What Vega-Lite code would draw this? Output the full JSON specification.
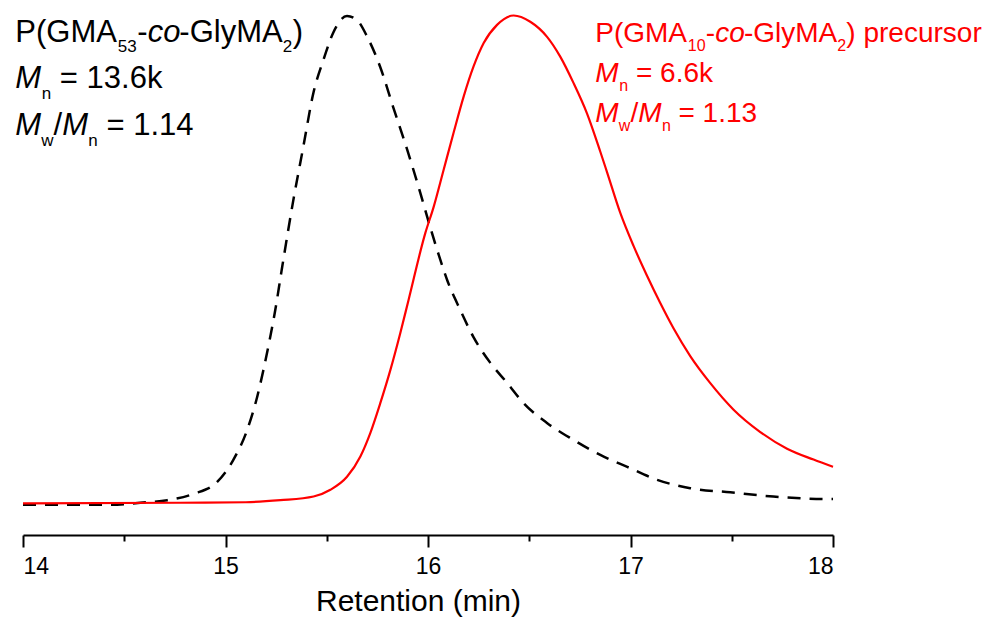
{
  "$schema": "https://vega.github.io/schema/vega-lite/v6.json",
  "width": 810,
  "height": 520,
  "autosize": {"type": "none"},
  "padding": {"left": 23, "top": 15, "right": 151, "bottom": 85},
  "background": "white",
  "config": {
    "view": {"stroke": null},
    "font": "Liberation Sans",
    "text": {"font": "Liberation Sans"}
  },
  "datasets": {
    "curves": [
      {"t": 14.0, "v": 0.061, "s": "precursor"},
      {"t": 14.777, "v": 0.062, "s": "precursor"},
      {"t": 15.1, "v": 0.063, "s": "precursor"},
      {"t": 15.271, "v": 0.067, "s": "precursor"},
      {"t": 15.435, "v": 0.074, "s": "precursor"},
      {"t": 15.518, "v": 0.087, "s": "precursor"},
      {"t": 15.600, "v": 0.112, "s": "precursor"},
      {"t": 15.666, "v": 0.151, "s": "precursor"},
      {"t": 15.715, "v": 0.196, "s": "precursor"},
      {"t": 15.764, "v": 0.253, "s": "precursor"},
      {"t": 15.814, "v": 0.317, "s": "precursor"},
      {"t": 15.863, "v": 0.388, "s": "precursor"},
      {"t": 15.904, "v": 0.452, "s": "precursor"},
      {"t": 15.987, "v": 0.581, "s": "precursor"},
      {"t": 16.028, "v": 0.631, "s": "precursor"},
      {"t": 16.077, "v": 0.702, "s": "precursor"},
      {"t": 16.126, "v": 0.773, "s": "precursor"},
      {"t": 16.176, "v": 0.843, "s": "precursor"},
      {"t": 16.225, "v": 0.901, "s": "precursor"},
      {"t": 16.275, "v": 0.946, "s": "precursor"},
      {"t": 16.341, "v": 0.981, "s": "precursor"},
      {"t": 16.423, "v": 0.999, "s": "precursor"},
      {"t": 16.505, "v": 0.987, "s": "precursor"},
      {"t": 16.588, "v": 0.958, "s": "precursor"},
      {"t": 16.653, "v": 0.920, "s": "precursor"},
      {"t": 16.719, "v": 0.869, "s": "precursor"},
      {"t": 16.785, "v": 0.811, "s": "precursor"},
      {"t": 16.851, "v": 0.737, "s": "precursor"},
      {"t": 16.884, "v": 0.698, "s": "precursor"},
      {"t": 16.950, "v": 0.619, "s": "precursor"},
      {"t": 17.015, "v": 0.556, "s": "precursor"},
      {"t": 17.081, "v": 0.499, "s": "precursor"},
      {"t": 17.147, "v": 0.446, "s": "precursor"},
      {"t": 17.213, "v": 0.397, "s": "precursor"},
      {"t": 17.295, "v": 0.344, "s": "precursor"},
      {"t": 17.394, "v": 0.292, "s": "precursor"},
      {"t": 17.509, "v": 0.241, "s": "precursor"},
      {"t": 17.641, "v": 0.198, "s": "precursor"},
      {"t": 17.773, "v": 0.166, "s": "precursor"},
      {"t": 17.904, "v": 0.145, "s": "precursor"},
      {"t": 18.0, "v": 0.131, "s": "precursor"},
      {"t": 14.0, "v": 0.058, "s": "product"},
      {"t": 14.431, "v": 0.058, "s": "product"},
      {"t": 14.579, "v": 0.062, "s": "product"},
      {"t": 14.713, "v": 0.067, "s": "product"},
      {"t": 14.841, "v": 0.079, "s": "product"},
      {"t": 14.959, "v": 0.102, "s": "product"},
      {"t": 15.038, "v": 0.144, "s": "product"},
      {"t": 15.107, "v": 0.202, "s": "product"},
      {"t": 15.156, "v": 0.265, "s": "product"},
      {"t": 15.187, "v": 0.317, "s": "product"},
      {"t": 15.221, "v": 0.381, "s": "product"},
      {"t": 15.246, "v": 0.433, "s": "product"},
      {"t": 15.276, "v": 0.506, "s": "product"},
      {"t": 15.335, "v": 0.644, "s": "product"},
      {"t": 15.384, "v": 0.746, "s": "product"},
      {"t": 15.434, "v": 0.850, "s": "product"},
      {"t": 15.483, "v": 0.913, "s": "product"},
      {"t": 15.532, "v": 0.966, "s": "product"},
      {"t": 15.600, "v": 0.998, "s": "product"},
      {"t": 15.650, "v": 0.990, "s": "product"},
      {"t": 15.700, "v": 0.958, "s": "product"},
      {"t": 15.764, "v": 0.900, "s": "product"},
      {"t": 15.828, "v": 0.823, "s": "product"},
      {"t": 15.898, "v": 0.740, "s": "product"},
      {"t": 15.962, "v": 0.658, "s": "product"},
      {"t": 16.011, "v": 0.592, "s": "product"},
      {"t": 16.061, "v": 0.529, "s": "product"},
      {"t": 16.095, "v": 0.490, "s": "product"},
      {"t": 16.159, "v": 0.433, "s": "product"},
      {"t": 16.224, "v": 0.381, "s": "product"},
      {"t": 16.308, "v": 0.331, "s": "product"},
      {"t": 16.392, "v": 0.292, "s": "product"},
      {"t": 16.471, "v": 0.254, "s": "product"},
      {"t": 16.589, "v": 0.215, "s": "product"},
      {"t": 16.718, "v": 0.183, "s": "product"},
      {"t": 16.851, "v": 0.154, "s": "product"},
      {"t": 16.984, "v": 0.131, "s": "product"},
      {"t": 17.132, "v": 0.106, "s": "product"},
      {"t": 17.295, "v": 0.090, "s": "product"},
      {"t": 17.493, "v": 0.082, "s": "product"},
      {"t": 17.705, "v": 0.074, "s": "product"},
      {"t": 17.972, "v": 0.069, "s": "product"},
      {"t": 18.0, "v": 0.069, "s": "product"}
    ],
    "regular": [
      {"x": 13.962, "y": 0.9487, "txt": "P(GMA", "s": "product"},
      {"x": 14.564, "y": 0.9487, "txt": "-", "s": "product"},
      {"x": 14.772, "y": 0.9487, "txt": "-GlyMA", "s": "product"},
      {"x": 15.332, "y": 0.9487, "txt": ")", "s": "product"},
      {"x": 14.182, "y": 0.8596, "txt": "= 13.6k", "s": "product"},
      {"x": 14.151, "y": 0.7692, "txt": "/", "s": "product"},
      {"x": 14.412, "y": 0.7692, "txt": "= 1.14", "s": "product"},
      {"x": 16.826, "y": 0.9487, "txt": "P(GMA", "s": "precursor"},
      {"x": 17.372, "y": 0.9487, "txt": "-", "s": "precursor"},
      {"x": 17.560, "y": 0.9487, "txt": "-GlyMA", "s": "precursor"},
      {"x": 18.066, "y": 0.9487, "txt": ") precursor", "s": "precursor"},
      {"x": 17.027, "y": 0.8717, "txt": "= 6.6k", "s": "precursor"},
      {"x": 17.000, "y": 0.7948, "txt": "/", "s": "precursor"},
      {"x": 17.237, "y": 0.7948, "txt": "= 1.13", "s": "precursor"}
    ],
    "italic": [
      {"x": 14.616, "y": 0.9487, "txt": "co", "s": "product"},
      {"x": 13.962, "y": 0.8596, "txt": "M", "s": "product"},
      {"x": 13.962, "y": 0.7692, "txt": "M", "s": "product"},
      {"x": 14.194, "y": 0.7692, "txt": "M", "s": "product"},
      {"x": 17.419, "y": 0.9487, "txt": "co", "s": "precursor"},
      {"x": 16.826, "y": 0.8717, "txt": "M", "s": "precursor"},
      {"x": 16.826, "y": 0.7948, "txt": "M", "s": "precursor"},
      {"x": 17.038, "y": 0.7948, "txt": "M", "s": "precursor"}
    ],
    "subs": [
      {"x": 14.468, "y": 0.9285, "txt": "53", "s": "product"},
      {"x": 15.283, "y": 0.9285, "txt": "2", "s": "product"},
      {"x": 14.093, "y": 0.8394, "txt": "n", "s": "product"},
      {"x": 14.090, "y": 0.7490, "txt": "w", "s": "product"},
      {"x": 14.322, "y": 0.7490, "txt": "n", "s": "product"},
      {"x": 17.283, "y": 0.9313, "txt": "10", "s": "precursor"},
      {"x": 18.021, "y": 0.9313, "txt": "2", "s": "precursor"},
      {"x": 16.945, "y": 0.8544, "txt": "n", "s": "precursor"},
      {"x": 16.942, "y": 0.7775, "txt": "w", "s": "precursor"},
      {"x": 17.155, "y": 0.7775, "txt": "n", "s": "precursor"}
    ]
  },
  "resolve": {"axis": {"x": "independent"}},
  "layer": [
    {
      "data": {"name": "curves"},
      "transform": [{"filter": "datum.s === 'product'"}],
      "mark": {"type": "line", "color": "black", "strokeWidth": 2.5, "strokeDash": [13, 9], "interpolate": "monotone"},
      "encoding": {
        "x": {"field": "t", "type": "quantitative", "scale": {"domain": [14, 18], "nice": false, "zero": false},
          "axis": {"orient": "bottom", "values": [14.5, 15.5, 16.5, 17.5], "labels": false, "domain": false, "grid": false, "tickSize": 6, "tickWidth": 2, "tickColor": "black", "title": null}},
        "y": {"field": "v", "type": "quantitative", "scale": {"domain": [0, 1], "nice": false, "zero": false}, "axis": null}
      }
    },
    {
      "data": {"name": "curves"},
      "transform": [{"filter": "datum.s === 'precursor'"}],
      "mark": {"type": "line", "color": "#ff0000", "strokeWidth": 2.2, "interpolate": "monotone"},
      "encoding": {
        "x": {"field": "t", "type": "quantitative", "scale": {"domain": [14, 18], "nice": false, "zero": false},
          "axis": {"orient": "bottom", "values": [14, 15, 16, 17, 18], "format": "d", "grid": false, "domainColor": "black", "domainWidth": 2, "tickColor": "black", "tickWidth": 2, "tickSize": 12, "labelFontSize": 23, "labelColor": "black", "labelPadding": 8, "labelFont": "Liberation Sans", "title": "Retention (min)", "titleFont": "Liberation Sans", "titleFontSize": 30, "titleFontWeight": "normal", "titleColor": "black", "titlePadding": 8, "titleX": 395}},
        "y": {"field": "v", "type": "quantitative", "scale": {"domain": [0, 1], "nice": false, "zero": false}, "axis": null}
      }
    },
    {
      "data": {"name": "regular"},
      "transform": [{"filter": "datum.s === 'product'"}],
      "mark": {"type": "text", "align": "left", "baseline": "alphabetic", "fontSize": 31, "color": "black"},
      "encoding": {
        "x": {"field": "x", "type": "quantitative", "axis": null},
        "y": {"field": "y", "type": "quantitative", "axis": null},
        "text": {"field": "txt"}
      }
    },
    {
      "data": {"name": "italic"},
      "transform": [{"filter": "datum.s === 'product'"}],
      "mark": {"type": "text", "align": "left", "baseline": "alphabetic", "fontSize": 31, "fontStyle": "italic", "color": "black"},
      "encoding": {
        "x": {"field": "x", "type": "quantitative", "axis": null},
        "y": {"field": "y", "type": "quantitative", "axis": null},
        "text": {"field": "txt"}
      }
    },
    {
      "data": {"name": "subs"},
      "transform": [{"filter": "datum.s === 'product'"}],
      "mark": {"type": "text", "align": "left", "baseline": "alphabetic", "fontSize": 17, "color": "black"},
      "encoding": {
        "x": {"field": "x", "type": "quantitative", "axis": null},
        "y": {"field": "y", "type": "quantitative", "axis": null},
        "text": {"field": "txt"}
      }
    },
    {
      "data": {"name": "regular"},
      "transform": [{"filter": "datum.s === 'precursor'"}],
      "mark": {"type": "text", "align": "left", "baseline": "alphabetic", "fontSize": 28, "color": "#ff0000"},
      "encoding": {
        "x": {"field": "x", "type": "quantitative", "axis": null},
        "y": {"field": "y", "type": "quantitative", "axis": null},
        "text": {"field": "txt"}
      }
    },
    {
      "data": {"name": "italic"},
      "transform": [{"filter": "datum.s === 'precursor'"}],
      "mark": {"type": "text", "align": "left", "baseline": "alphabetic", "fontSize": 28, "fontStyle": "italic", "color": "#ff0000"},
      "encoding": {
        "x": {"field": "x", "type": "quantitative", "axis": null},
        "y": {"field": "y", "type": "quantitative", "axis": null},
        "text": {"field": "txt"}
      }
    },
    {
      "data": {"name": "subs"},
      "transform": [{"filter": "datum.s === 'precursor'"}],
      "mark": {"type": "text", "align": "left", "baseline": "alphabetic", "fontSize": 16, "color": "#ff0000"},
      "encoding": {
        "x": {"field": "x", "type": "quantitative", "axis": null},
        "y": {"field": "y", "type": "quantitative", "axis": null},
        "text": {"field": "txt"}
      }
    }
  ]
}
